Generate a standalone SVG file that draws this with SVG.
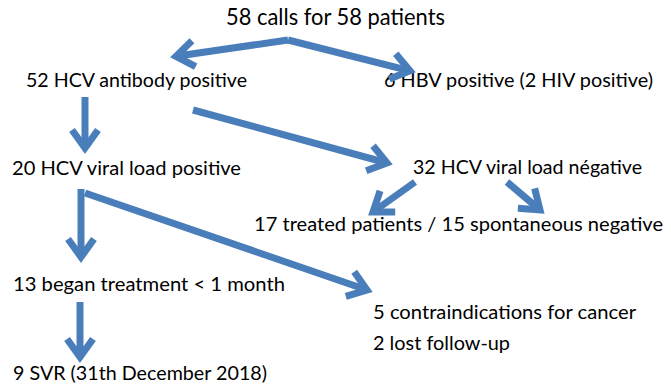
<svg xmlns="http://www.w3.org/2000/svg" width="671" height="389" viewBox="0 0 671 389">
<style>
text{font-family:Lato,"Open Sans","Liberation Sans",sans-serif;font-size:18.5px;fill:#000}
.t{font-size:22.5px}
.c line{stroke:#4a7ebb;stroke-width:7;fill:none;marker-end:url(#ah)}
</style>
<defs>
<marker id="ah" markerUnits="userSpaceOnUse" viewBox="-30 -25 40 50" refX="0" refY="0" markerWidth="40" markerHeight="50" orient="auto">
<path d="M-18,-13 L0,0 L-18,13" fill="none" stroke="#4a7ebb" stroke-width="7" stroke-linejoin="miter"/>
</marker>
</defs>
<rect width="671" height="389" fill="#fff"/>
<g id="n1"><text class="t" x="226" y="25" textLength="219" lengthAdjust="spacingAndGlyphs">58 calls for 58 patients</text></g>
<g id="n2"><text x="26" y="87" textLength="221" lengthAdjust="spacingAndGlyphs">52 HCV antibody positive</text></g>
<g id="n3"><text x="384" y="87" textLength="269" lengthAdjust="spacingAndGlyphs">6 HBV positive (2 HIV positive)</text></g>
<g id="n4"><text x="12" y="175" textLength="229" lengthAdjust="spacingAndGlyphs">20 HCV viral load positive</text></g>
<g id="n5"><text x="413" y="174" textLength="229" lengthAdjust="spacingAndGlyphs">32 HCV viral load négative</text></g>
<g id="n6"><text x="254" y="231" textLength="409" lengthAdjust="spacingAndGlyphs">17 treated patients / 15 spontaneous negative</text></g>
<g id="n7"><text x="13" y="291" textLength="272" lengthAdjust="spacingAndGlyphs">13 began treatment &lt; 1 month</text></g>
<g id="n8"><text x="373" y="319" textLength="263" lengthAdjust="spacingAndGlyphs">5 contraindications for cancer</text><text x="373" y="350" textLength="137" lengthAdjust="spacingAndGlyphs">2 lost follow-up</text></g>
<g id="n9"><text x="13" y="380" textLength="254" lengthAdjust="spacingAndGlyphs">9 SVR (31th December 2018)</text></g>
<g class="c" id="connectors">
<line x1="288" y1="40" x2="176" y2="56.3"/>
<line x1="288" y1="40" x2="410" y2="70.8"/>
<line x1="85" y1="97" x2="85" y2="148"/>
<line x1="193" y1="110" x2="387" y2="163"/>
<line x1="415" y1="182" x2="373" y2="212"/>
<line x1="507" y1="182" x2="540" y2="210"/>
<line x1="81" y1="189" x2="81" y2="257"/>
<line x1="85" y1="193" x2="367" y2="290"/>
<line x1="80" y1="302" x2="80" y2="357"/>
</g>
</svg>
